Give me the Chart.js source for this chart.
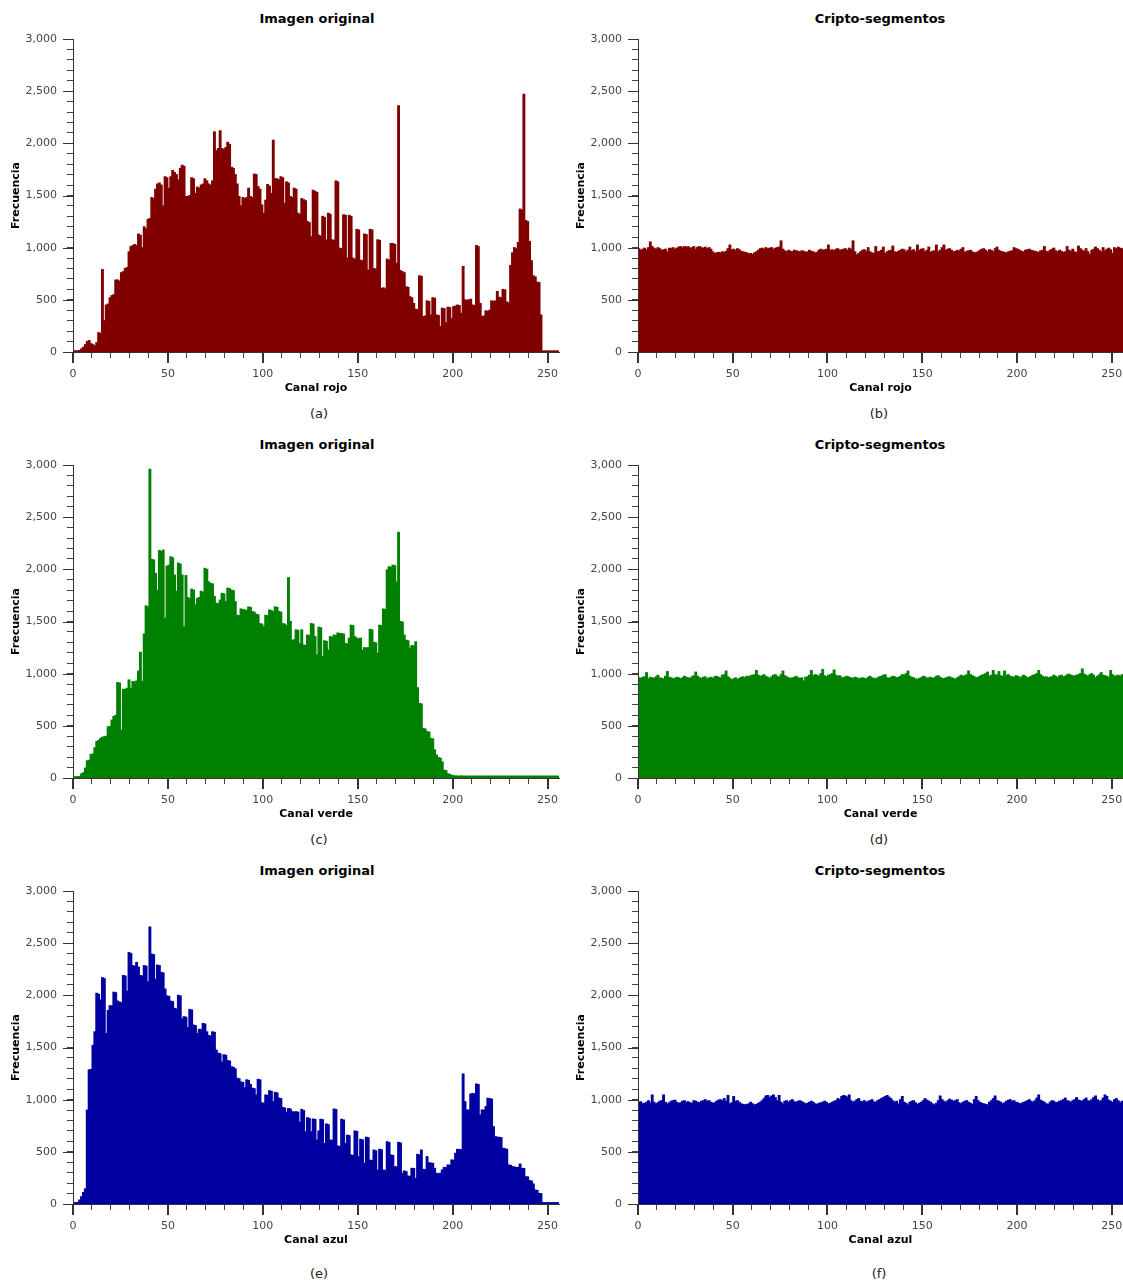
<!DOCTYPE html>
<html lang="es">
<head>
<meta charset="UTF-8">
<title>Histogramas RGB - Imagen original vs Cripto-segmentos</title>
<script src="https://cdn.jsdelivr.net/npm/chart.js@4.4.3/dist/chart.umd.min.js"></script>
<style>
  body { margin: 0; background: #fff; font-family: "DejaVu Sans", sans-serif; }
  #page { position: relative; width: 1123px; height: 1282px; overflow: hidden; background: #fff; }
  canvas { position: absolute; }
  .lbl { position: absolute; transform: translate(-50%, -50%); white-space: nowrap; line-height: 1; color: #000; }
  .ttl { font-weight: bold; font-size: 13px; }
  .cap { font-size: 13px; color: #222; }
</style>
</head>
<body>
<div id="page"></div>

<script>
// histogram bins (intensity 0..255)
const bins = Array.from({ length: 256 }, (_, i) => i);

// axis ticks
const xTickValues = [0, 10, 20, 30, 40, 50, 60, 70, 80, 90, 100, 110, 120, 130, 140, 150, 160, 170, 180, 190, 200, 210, 220, 230, 240, 250];
const xLabelValues = [0, 50, 100, 150, 200, 250];
const yLabelValues = [0, 500, 1000, 1500, 2000, 2500, 3000];

// (a) red channel, original image
const redOriginal = [
  10, 12, 10, 15, 30, 45, 70, 100, 110, 80, 70, 60, 90, 185, 180, 790,
  300, 450, 460, 520, 540, 550, 690, 690, 680, 760, 770, 800, 810, 960, 1010, 1020,
  1030, 1020, 1130, 1120, 1000, 1200, 1180, 1270, 1280, 1480, 1470, 1560, 1610, 1620, 1600, 1400,
  1680, 1670, 1570, 1680, 1740, 1720, 1700, 1650, 1760, 1790, 1780, 1490, 1490, 1500, 1670, 1660,
  1520, 1580, 1570, 1600, 1610, 1660, 1640, 1610, 1600, 1640, 2110, 1930, 1950, 2120, 1950, 1940,
  1960, 2010, 1990, 1770, 1760, 1700, 1610, 1490, 1400, 1480, 1470, 1480, 1570, 1490, 1480, 1705,
  1700, 1585, 1560, 1410, 1330, 1455, 1605, 1590, 1520, 2030, 1660, 1660, 1650, 1680, 1670, 1425,
  1630, 1620, 1490, 1480, 1570, 1560, 1330, 1320, 1470, 1460, 1450, 1250, 1240, 1105, 1550, 1540,
  1530, 1120, 1110, 1300, 1290, 1075, 1330, 1320, 1075, 1070, 1640, 1630, 995, 990, 1315, 1310,
  900, 1310, 1300, 900, 890, 1175, 1170, 880, 875, 1130, 1125, 785, 1175, 1170, 800, 795,
  1075, 1070, 610, 615, 605, 890, 880, 1040, 1040, 1030, 850, 2360, 780, 770, 760, 625,
  620, 530, 520, 465, 410, 405, 730, 725, 340, 345, 490, 485, 355, 520, 515, 355,
  350, 245, 420, 415, 280, 430, 425, 320, 435, 440, 450, 445, 370, 820, 500, 495,
  500, 505, 450, 445, 1020, 1010, 465, 340, 345, 395, 390, 400, 490, 485, 490, 580,
  525, 520, 600, 595, 480, 470, 830, 950, 1000, 990, 1050, 1370, 1360, 2470, 1260, 1250,
  1060, 875, 730, 720, 670, 665, 355, 10, 10, 10, 10, 10, 10, 10, 10, 10
];

// (b) red channel, crypto-segments
const redCrypto = [
  990, 975, 985, 995, 980, 1000, 1055, 1010, 995, 985, 1000, 990, 975, 980, 985, 960,
  995, 990, 1000, 985, 995, 1005, 1010, 1000, 1010, 1005, 1010, 995, 1000, 1010, 985, 1005,
  1010, 1000, 995, 1005, 990, 1000, 985, 960, 945, 950, 955, 950, 960, 955, 965, 990,
  1025, 980, 985, 975, 990, 980, 965, 960, 955, 950, 940, 945, 935, 950, 960, 975,
  990, 995, 985, 1000, 990, 995, 1000, 985, 995, 1000, 1005, 1065, 985, 970, 960, 975,
  965, 960, 975, 970, 965, 960, 970, 965, 955, 960, 975, 965, 960, 950, 955, 975,
  985, 975, 980, 985, 1025, 975, 980, 970, 985, 990, 975, 980, 985, 990, 975, 995,
  985, 1065, 960, 930, 945, 960, 975, 980, 965, 1000, 960, 950, 945, 1010, 960, 965,
  975, 1005, 945, 960, 970, 975, 1015, 960, 955, 965, 975, 985, 980, 960, 975, 1005,
  970, 980, 960, 1025, 975, 985, 990, 960, 975, 1005, 955, 965, 970, 1025, 960, 975,
  1000, 1025, 975, 985, 990, 975, 960, 965, 975, 970, 985, 1000, 955, 965, 970, 975,
  960, 950, 955, 960, 975, 985, 990, 975, 960, 980, 975, 960, 990, 1005, 975, 965,
  960, 955, 950, 960, 965, 970, 1000, 990, 985, 975, 965, 960, 975, 980, 985, 975,
  970, 965, 960, 955, 970, 975, 1010, 965, 960, 975, 985, 995, 970, 960, 975, 965,
  955, 960, 1010, 975, 965, 985, 960, 955, 1015, 990, 975, 965, 990, 960, 935, 975,
  985, 1005, 990, 975, 960, 1000, 970, 985, 995, 980, 945, 1000, 990, 1005, 995, 990
];

// (c) green channel, original image
const greenOriginal = [
  10, 12, 12, 15, 40, 50, 95, 165, 170, 225, 230, 290, 350, 360, 380, 390,
  395, 400, 490, 495, 555, 590, 600, 915, 910, 460, 850, 850, 860, 940, 860, 925,
  920, 930, 1025, 1205, 925, 1380, 1650, 1640, 2960, 2095, 2090, 1960, 1800, 2180, 2170, 2185,
  1530, 2030, 2040, 2120, 2110, 1945, 1790, 2060, 2050, 1945, 1450, 1940, 1730, 1720, 1810, 1800,
  1660, 1720, 1730, 1790, 1780, 2010, 2000, 1880, 1865, 1860, 1740, 1675, 1670, 1705, 1770, 1765,
  1690, 1820, 1815, 1800, 1795, 1690, 1560, 1555, 1620, 1615, 1610, 1605, 1640, 1635, 1595, 1590,
  1570, 1565, 1480, 1475, 1450, 1560, 1555, 1610, 1605, 1595, 1640, 1635, 1595, 1590, 1480, 1475,
  1460, 1920, 1500, 1320, 1325, 1420, 1415, 1290, 1420, 1275, 1270, 1370, 1365, 1480, 1475, 1355,
  1180, 1445, 1440, 1165, 1315, 1310, 1225, 1355, 1350, 1370, 1365, 1390, 1385, 1385, 1380, 1290,
  1285, 1340, 1465, 1460, 1355, 1340, 1335, 1340, 1225, 1250, 1245, 1250, 1425, 1420, 1300, 1295,
  1195, 1465, 1460, 1620, 1615, 1995, 2025, 2020, 2040, 2035, 1880, 2355, 1500, 1495, 1370, 1320,
  1315, 1245, 1270, 1265, 1305, 865, 715, 710, 475, 470, 445, 440, 380, 375, 270, 220,
  195, 190, 155, 75, 70, 40, 35, 25, 22, 20, 18, 18, 20, 18, 18, 18,
  18, 18, 18, 18, 18, 18, 18, 18, 18, 18, 18, 18, 18, 18, 18, 18,
  18, 18, 18, 18, 18, 18, 18, 18, 18, 18, 18, 18, 18, 18, 18, 18,
  18, 18, 18, 18, 18, 18, 18, 18, 18, 18, 18, 18, 18, 18, 18, 18
];

// (d) green channel, crypto-segments
const greenCrypto = [
  960, 955, 965, 970, 1010, 950, 965, 960, 955, 970, 985, 960, 955, 950, 975, 1020,
  965, 960, 950, 955, 965, 960, 950, 960, 975, 965, 960, 955, 970, 980, 1015, 975,
  960, 955, 965, 970, 950, 960, 965, 955, 970, 975, 965, 960, 985, 990, 1025, 970,
  955, 940, 950, 960, 945, 955, 965, 970, 960, 975, 970, 980, 985, 990, 1030, 985,
  975, 980, 990, 975, 965, 955, 970, 985, 990, 975, 965, 990, 1025, 980, 970, 960,
  955, 960, 965, 975, 960, 955, 960, 930, 965, 970, 985, 1030, 980, 990, 985, 975,
  1000, 1040, 980, 970, 985, 990, 1000, 1035, 985, 975, 980, 965, 960, 970, 975, 965,
  960, 955, 965, 960, 950, 955, 960, 955, 950, 965, 975, 960, 955, 950, 960, 970,
  975, 985, 990, 960, 955, 965, 975, 970, 960, 965, 975, 990, 985, 1000, 1025, 975,
  965, 960, 950, 945, 955, 960, 975, 970, 955, 960, 965, 955, 960, 975, 980, 965,
  955, 950, 960, 965, 970, 960, 955, 945, 960, 970, 985, 975, 980, 990, 1025, 990,
  980, 970, 960, 965, 975, 985, 990, 1000, 1015, 975, 985, 1030, 990, 985, 1020, 980,
  975, 1025, 985, 990, 975, 970, 965, 980, 975, 960, 970, 985, 975, 960, 965, 975,
  985, 990, 1000, 1030, 990, 975, 965, 970, 960, 965, 970, 985, 975, 960, 980, 985,
  970, 975, 990, 995, 985, 980, 975, 985, 990, 1000, 1045, 995, 985, 975, 990, 1000,
  985, 960, 975, 990, 1010, 985, 980, 975, 965, 1030, 990, 975, 980, 985, 975, 990
];

// (e) blue channel, original image
const blueOriginal = [
  12, 12, 15, 38, 70, 110, 145, 900, 1285, 1290, 1520, 1650, 2020, 2010, 1955, 2170,
  2160, 1635, 1855, 1900, 1900, 2030, 2025, 1945, 1935, 1930, 2190, 2185, 2040, 2410, 2400, 2285,
  2280, 2315, 2270, 2190, 2185, 2285, 2280, 2130, 2655, 2395, 2390, 2155, 2290, 2285, 2220, 2215,
  2060, 1995, 1990, 1945, 1940, 1875, 1870, 2000, 1995, 1775, 1795, 1790, 1690, 1865, 1860, 1715,
  1710, 1635, 1675, 1670, 1730, 1725, 1650, 1615, 1610, 1650, 1645, 1475, 1445, 1440, 1360, 1430,
  1425, 1375, 1370, 1315, 1310, 1295, 1205, 1200, 1170, 1165, 1115, 1190, 1185, 1145, 1110, 1105,
  1045, 1195, 1190, 970, 965, 1045, 1040, 1085, 1080, 980, 1070, 1065, 1015, 1010, 925, 920,
  880, 915, 910, 885, 880, 885, 880, 785, 907, 895, 693, 827, 820, 693, 815, 810,
  613, 700, 812, 808, 580, 767, 760, 613, 610, 910, 905, 556, 550, 812, 805, 580,
  660, 655, 470, 465, 700, 695, 454, 620, 615, 390, 640, 635, 420, 415, 517, 510,
  326, 524, 520, 326, 320, 597, 590, 470, 465, 358, 355, 591, 585, 294, 316, 310,
  268, 265, 342, 340, 246, 476, 470, 517, 332, 330, 454, 396, 392, 390, 342, 294,
  290, 295, 326, 351, 348, 374, 372, 422, 420, 486, 524, 522, 520, 1246, 981, 901,
  900, 1054, 1060, 1055, 1150, 1145, 853, 901, 900, 933, 1013, 1010, 1005, 741, 645, 640,
  639, 636, 534, 530, 524, 374, 370, 358, 355, 351, 350, 383, 342, 340, 262, 260,
  224, 220, 192, 134, 130, 102, 100, 13, 13, 13, 13, 13, 13, 13, 13, 13
];

// (f) blue channel, crypto-segments
const blueCrypto = [
  975, 980, 960, 965, 975, 990, 970, 1045, 975, 960, 970, 985, 990, 1045, 975, 960,
  970, 985, 990, 995, 975, 965, 970, 985, 990, 975, 980, 970, 965, 990, 985, 975,
  970, 985, 990, 1000, 985, 990, 975, 965, 970, 985, 995, 1000, 990, 1010, 985, 1040,
  960, 970, 1030, 985, 990, 975, 960, 955, 950, 955, 960, 975, 960, 950, 955, 965,
  975, 990, 1010, 1035, 1040, 1020, 1035, 1045, 1020, 990, 1040, 975, 960, 985, 990, 975,
  990, 1000, 980, 975, 985, 990, 980, 970, 960, 965, 975, 985, 975, 960, 955, 965,
  970, 975, 985, 975, 960, 965, 975, 985, 990, 1010, 1000, 1030, 1040, 1035, 1025, 1045,
  990, 975, 985, 1000, 1010, 985, 980, 990, 975, 985, 990, 1000, 980, 975, 990, 1000,
  1010, 1020, 1030, 1040, 1025, 1010, 990, 975, 985, 960, 1000, 1030, 975, 965, 950, 975,
  985, 990, 970, 955, 965, 975, 990, 1010, 995, 985, 975, 960, 950, 965, 990, 1035,
  1000, 985, 975, 990, 1005, 995, 985, 990, 1000, 970, 960, 975, 985, 990, 975, 965,
  955, 1000, 1030, 990, 975, 965, 960, 955, 950, 975, 990, 1010, 1035, 990, 985, 975,
  960, 970, 985, 995, 1000, 985, 990, 975, 970, 960, 965, 975, 980, 990, 1000, 985,
  975, 990, 1015, 1045, 995, 985, 975, 960, 955, 975, 990, 985, 970, 975, 985, 990,
  1000, 1015, 990, 985, 975, 990, 1000, 1020, 995, 990, 985, 1000, 1015, 990, 985, 1000,
  1020, 1035, 1000, 985, 990, 1015, 1045, 1030, 995, 985, 975, 1000, 1010, 990, 970, 985
];

// panel layout: 2 columns x 3 rows
const colLeft = [0, 565];
const colWidth = [565, 558];
const plotTops = [39, 465, 891];
const titleY = [18, 444, 870];
const captionY = [413, 839, 1273];
const titleX = [317, 880];
const captionX = [319, 879];

const panels = [
  { values: redOriginal,   color: '#800000', xTitle: 'Canal rojo',  title: 'Imagen original',  caption: '(a)', row: 0, col: 0 },
  { values: redCrypto,     color: '#800000', xTitle: 'Canal rojo',  title: 'Cripto-segmentos', caption: '(b)', row: 0, col: 1 },
  { values: greenOriginal, color: '#008000', xTitle: 'Canal verde', title: 'Imagen original',  caption: '(c)', row: 1, col: 0 },
  { values: greenCrypto,   color: '#008000', xTitle: 'Canal verde', title: 'Cripto-segmentos', caption: '(d)', row: 1, col: 1 },
  { values: blueOriginal,  color: '#0000a0', xTitle: 'Canal azul',  title: 'Imagen original',  caption: '(e)', row: 2, col: 0 },
  { values: blueCrypto,    color: '#0000a0', xTitle: 'Canal azul',  title: 'Cripto-segmentos', caption: '(f)', row: 2, col: 1 }
];

// longer tick marks at labelled values
const majorTicks = {
  id: 'majorTicks',
  afterDraw(chart) {
    const { ctx, scales: { x, y } } = chart;
    ctx.save();
    ctx.strokeStyle = '#333';
    ctx.lineWidth = 2;
    ctx.beginPath();
    xLabelValues.forEach(v => {
      const px = Math.round(x.getPixelForValue(v));
      ctx.moveTo(px, x.top);
      ctx.lineTo(px, x.top + 11);
    });
    ctx.stroke();
    ctx.lineWidth = 1;
    ctx.beginPath();
    yLabelValues.forEach(v => {
      const py = Math.round(y.getPixelForValue(v)) + 0.5;
      ctx.moveTo(y.right - 10, py);
      ctx.lineTo(y.right, py);
    });
    ctx.stroke();
    ctx.restore();
  }
};

const page = document.getElementById('page');

function addLabel(text, x, y, cls) {
  const d = document.createElement('div');
  d.className = 'lbl ' + cls;
  d.textContent = text;
  d.style.left = x + 'px';
  d.style.top = y + 'px';
  page.appendChild(d);
}

panels.forEach(p => {
  const canvas = document.createElement('canvas');
  const top = plotTops[p.row] - 9;
  canvas.width = colWidth[p.col];
  canvas.height = 9 + 313 + 43;
  canvas.style.left = colLeft[p.col] + 'px';
  canvas.style.top = top + 'px';
  page.appendChild(canvas);

  addLabel(p.title, titleX[p.col], titleY[p.row], 'ttl');
  addLabel(p.caption, captionX[p.col], captionY[p.row], 'cap');

  new Chart(canvas, {
    type: 'bar',
    data: {
      datasets: [{
        data: p.values.map((v, i) => ({ x: bins[i] + 0.5, y: v })),
        backgroundColor: p.color,
        borderWidth: 0,
        inflateAmount: 0.5,
        barPercentage: 1,
        categoryPercentage: 1
      }]
    },
    options: {
      responsive: false,
      animation: false,
      layout: { padding: { top: 9, left: 0, right: p.col === 0 ? 6 : 0, bottom: 0 } },
      plugins: {
        legend: { display: false },
        tooltip: { enabled: false },
        title: { display: false }
      },
      scales: {
        x: {
          type: 'linear',
          offset: false,
          min: 0,
          max: 256,
          afterBuildTicks: s => { s.ticks = xTickValues.map(v => ({ value: v })); },
          afterFit: s => { s.height = 43; s.paddingLeft = 0; s.paddingRight = 0; },
          grid: { offset: false, drawOnChartArea: false, drawTicks: true, tickLength: 6, tickColor: '#444', tickWidth: 1 },
          border: { display: true, color: '#333', width: 1, z: 1 },
          ticks: {
            autoSkip: false,
            maxRotation: 0,
            padding: 10,
            color: '#444',
            font: { family: 'DejaVu Sans', size: 11 },
            callback: v => xLabelValues.includes(v) ? String(v) : ''
          },
          title: {
            display: true,
            text: p.xTitle,
            color: '#000',
            padding: { top: 0, bottom: 0 },
            font: { family: 'DejaVu Sans', size: 11, weight: 'bold' }
          }
        },
        y: {
          min: 0,
          max: 3000,
          afterFit: s => { s.width = 73; s.paddingTop = 0; s.paddingBottom = 0; },
          grid: { drawOnChartArea: false, drawTicks: true, tickLength: 6, tickColor: '#444', tickWidth: 1 },
          border: { display: true, color: '#333', width: 1, z: 1 },
          ticks: {
            stepSize: 100,
            autoSkip: false,
            padding: 10,
            color: '#444',
            font: { family: 'DejaVu Sans', size: 11 },
            callback: v => yLabelValues.includes(v) ? v.toLocaleString('en-US') : ''
          },
          title: {
            display: true,
            text: 'Frecuencia',
            color: '#000',
            padding: { top: 10, bottom: 0 },
            font: { family: 'DejaVu Sans', size: 11, weight: 'bold' }
          }
        }
      }
    },
    plugins: [majorTicks]
  });
});
</script>
</body>
</html>
